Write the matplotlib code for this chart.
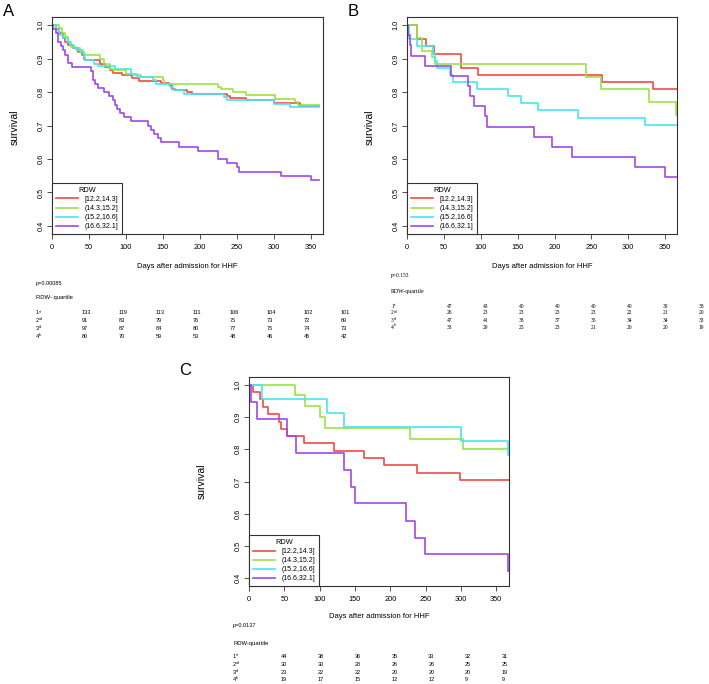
import matplotlib
matplotlib.use("Agg")
import matplotlib.pyplot as plt

plt.rcParams['font.family'] = ['Liberation Sans', 'DejaVu Sans']

# --- data ---
groups = ['[12.2,14.3]', '(14.3,15.2]', '(15.2,16.6]', '(16.6,32.1]']
colors = ['#F04A44', '#9BE245', '#45E6F2', '#A048E6']

# panel A
a_red_t = [0, 5, 10, 15, 18, 22, 28, 35, 40, 43, 45, 65, 72, 78, 82, 95, 108, 117, 148, 158, 162, 166, 182, 190, 236, 241, 262, 300, 335, 361]
a_red_s = [1.0, 0.987, 0.975, 0.962, 0.95, 0.94, 0.93, 0.92, 0.91, 0.90, 0.895, 0.885, 0.875, 0.865, 0.857, 0.85, 0.843, 0.833, 0.827, 0.82, 0.81, 0.805, 0.80, 0.795, 0.787, 0.782, 0.775, 0.766, 0.758, 0.758]
a_grn_t = [0, 10, 14, 18, 22, 26, 33, 42, 45, 65, 70, 78, 82, 100, 110, 120, 150, 152, 225, 229, 245, 262, 302, 328, 333, 361]
a_grn_s = [1.0, 0.99, 0.975, 0.965, 0.95, 0.935, 0.925, 0.915, 0.912, 0.90, 0.885, 0.87, 0.865, 0.855, 0.85, 0.845, 0.835, 0.823, 0.815, 0.81, 0.80, 0.79, 0.78, 0.77, 0.76, 0.76]
a_cyn_t = [0, 5, 10, 15, 22, 25, 30, 38, 43, 45, 57, 62, 85, 107, 115, 137, 140, 160, 163, 178, 233, 236, 300, 322, 361]
a_cyn_s = [1.0, 0.985, 0.97, 0.96, 0.95, 0.94, 0.93, 0.92, 0.905, 0.895, 0.885, 0.877, 0.868, 0.855, 0.845, 0.835, 0.825, 0.815, 0.805, 0.795, 0.785, 0.775, 0.765, 0.755, 0.755]
a_pur_t = [0, 2, 5, 8, 12, 15, 18, 22, 27, 53, 55, 58, 62, 70, 77, 82, 85, 88, 92, 97, 107, 130, 134, 138, 143, 148, 172, 197, 224, 236, 250, 253, 310, 350, 361]
a_pur_s = [1.0, 0.987, 0.975, 0.95, 0.937, 0.925, 0.912, 0.887, 0.875, 0.862, 0.837, 0.825, 0.812, 0.80, 0.787, 0.775, 0.762, 0.75, 0.737, 0.725, 0.712, 0.70, 0.687, 0.675, 0.662, 0.65, 0.637, 0.625, 0.60, 0.587, 0.575, 0.562, 0.55, 0.537, 0.537]

# panel B
b_red_t = [0, 13, 26, 37, 73, 96, 264, 334, 366]
b_red_s = [1.0, 0.957, 0.936, 0.915, 0.872, 0.851, 0.83, 0.809, 0.809]
b_grn_t = [0, 14, 20, 34, 38, 243, 263, 328, 365, 366]
b_grn_s = [1.0, 0.962, 0.923, 0.905, 0.885, 0.846, 0.808, 0.769, 0.731, 0.731]
b_cyn_t = [0, 3, 14, 35, 38, 41, 58, 63, 95, 137, 155, 178, 232, 322, 366]
b_cyn_s = [1.0, 0.957, 0.936, 0.915, 0.894, 0.872, 0.851, 0.83, 0.809, 0.787, 0.766, 0.745, 0.723, 0.702, 0.702]
b_pur_t = [0, 2, 4, 6, 25, 59, 83, 85, 91, 106, 108, 172, 196, 224, 309, 350, 366]
b_pur_s = [1.0, 0.97, 0.939, 0.909, 0.879, 0.848, 0.818, 0.788, 0.758, 0.727, 0.697, 0.667, 0.636, 0.606, 0.576, 0.545, 0.545]

# panel C
c_red_t = [0, 5, 15, 20, 27, 43, 45, 54, 78, 120, 163, 191, 238, 298, 368]
c_red_s = [1.0, 0.977, 0.955, 0.932, 0.909, 0.886, 0.864, 0.841, 0.818, 0.795, 0.773, 0.75, 0.727, 0.705, 0.705]
c_grn_t = [0, 65, 79, 100, 107, 228, 303, 368]
c_grn_s = [1.0, 0.967, 0.933, 0.90, 0.867, 0.833, 0.80, 0.80]
c_cyn_t = [0, 18, 110, 134, 300, 366, 368]
c_cyn_s = [1.0, 0.957, 0.913, 0.87, 0.826, 0.783, 0.783]
c_pur_t = [0, 3, 12, 54, 66, 134, 144, 150, 222, 235, 249, 366, 368]
c_pur_s = [1.0, 0.947, 0.895, 0.842, 0.789, 0.737, 0.684, 0.632, 0.579, 0.526, 0.474, 0.421, 0.421]

# numbers at risk
row_nums = ['1', '2', '3', '4']
row_sups = ['st', 'nd', 'rd', 'th']
a_risk = [[133, 119, 113, 111, 106, 104, 102, 101],
          [91, 83, 79, 76, 75, 73, 72, 69],
          [97, 87, 84, 80, 77, 75, 74, 73],
          [80, 70, 59, 53, 48, 46, 45, 42]]
b_risk = [[47, 43, 40, 40, 40, 40, 39, 38],
          [26, 23, 23, 23, 23, 22, 21, 20],
          [47, 41, 38, 37, 35, 34, 34, 33],
          [33, 29, 25, 23, 21, 20, 20, 19]]
c_risk = [[44, 38, 36, 35, 33, 32, 31],
          [30, 30, 28, 26, 26, 25, 25],
          [23, 22, 22, 20, 20, 20, 19],
          [19, 17, 15, 12, 12, 9, 9]]
p_values = ['p=0.00085', 'p=0.153', 'p=0.0137']
risk_titles = ['RDW- quartile', 'RDW-quartile', 'RDW-quartile']

W, H = 709, 684
fig = plt.figure(figsize=(W / 100, H / 100), dpi=100)


def px(x, y):
    return x / W, 1 - y / H


def km_panel(rect, curves, xmax):
    l, t, r, b = rect
    ax = fig.add_axes([l / W, 1 - b / H, (r - l) / W, (b - t) / H])
    for (tt, ss), c, g in zip(curves, colors, groups):
        ax.step(tt, ss, where='post', color=c, lw=1.2, label=g)
    ax.set_xlim(0, xmax)
    ax.set_ylim(0.376, 1.024)
    ax.set_xticks(range(0, 351, 50))
    ax.set_yticks([0.4, 0.5, 0.6, 0.7, 0.8, 0.9, 1.0])
    ax.set_yticklabels(['0.4', '0.5', '0.6', '0.7', '0.8', '0.9', '1.0'])
    for sp in ax.spines.values():
        sp.set_linewidth(0.8)
        sp.set_color('#333333')
    ax.tick_params(direction='out', length=3.5, width=0.6, color='#333333', labelsize=5.3)
    ax.tick_params(axis='x', pad=4)
    ax.tick_params(axis='y', pad=2)
    for lab in ax.get_yticklabels():
        lab.set_rotation(90)
        lab.set_va('center')
    leg = ax.legend(title='RDW', loc='lower left', borderaxespad=0, fancybox=False,
                    edgecolor='#333333', framealpha=1, fontsize=5, title_fontsize=5.3,
                    handlelength=3.2, handletextpad=0.9, labelspacing=0.3, borderpad=0.55)
    leg.get_frame().set_linewidth(0.8)
    return ax


def risk_table(x0, col0, dx, y_p, y_title, y_rows, rows, pval, title, family):
    fig.text(*px(x0, y_p), pval, fontsize=4, va='center', family=family)
    fig.text(*px(x0, y_title), title, fontsize=4.2, va='center', family=family)
    for i, vals in enumerate(rows):
        y = y_rows[i]
        fig.text(*px(x0, y), row_nums[i], fontsize=4, va='center', family=family)
        fig.text(*px(x0 + 3.2, y - 1.5), row_sups[i], fontsize=2.6, va='center', family=family)
        for j, v in enumerate(vals):
            fig.text(*px(col0 + j * dx, y), str(v), fontsize=4, va='center', family=family)


# A
km_panel((52, 17, 323, 234), [(a_red_t, a_red_s), (a_grn_t, a_grn_s), (a_cyn_t, a_cyn_s), (a_pur_t, a_pur_s)], 366.5)
fig.text(*px(3, 11), 'A', fontsize=12, va='center')
fig.text(*px(15, 127), 'survival', fontsize=7.5, rotation=90, ha='center', va='center')
fig.text(*px(187, 267), 'Days after admission for HHF', fontsize=5.5, ha='center', va='center')
risk_table(36, 82, 37, 283, 297, [313, 320, 328, 336], a_risk, p_values[0], risk_titles[0], 'Liberation Sans')

# B
km_panel((407, 17, 677, 234), [(b_red_t, b_red_s), (b_grn_t, b_grn_s), (b_cyn_t, b_cyn_s), (b_pur_t, b_pur_s)], 366)
fig.text(*px(348, 11), 'B', fontsize=12, va='center')
fig.text(*px(370, 127), 'survival', fontsize=7.5, rotation=90, ha='center', va='center')
fig.text(*px(542, 267), 'Days after admission for HHF', fontsize=5.5, ha='center', va='center')
risk_table(391, 447, 35.9, 276, 292, [306, 313, 320, 327], b_risk, p_values[1], risk_titles[1], 'Liberation Serif')

# C
km_panel((249, 377, 509, 586), [(c_red_t, c_red_s), (c_grn_t, c_grn_s), (c_cyn_t, c_cyn_s), (c_pur_t, c_pur_s)], 368)
fig.text(*px(179, 370), 'C', fontsize=12, va='center')
fig.text(*px(202, 481), 'survival', fontsize=7.5, rotation=90, ha='center', va='center')
fig.text(*px(379, 617), 'Days after admission for HHF', fontsize=5.5, ha='center', va='center')
risk_table(233, 281, 36.8, 626, 643, [656, 664, 672, 679.5], c_risk, p_values[2], risk_titles[2], 'Liberation Sans')

fig.savefig('out.png', dpi=100)
